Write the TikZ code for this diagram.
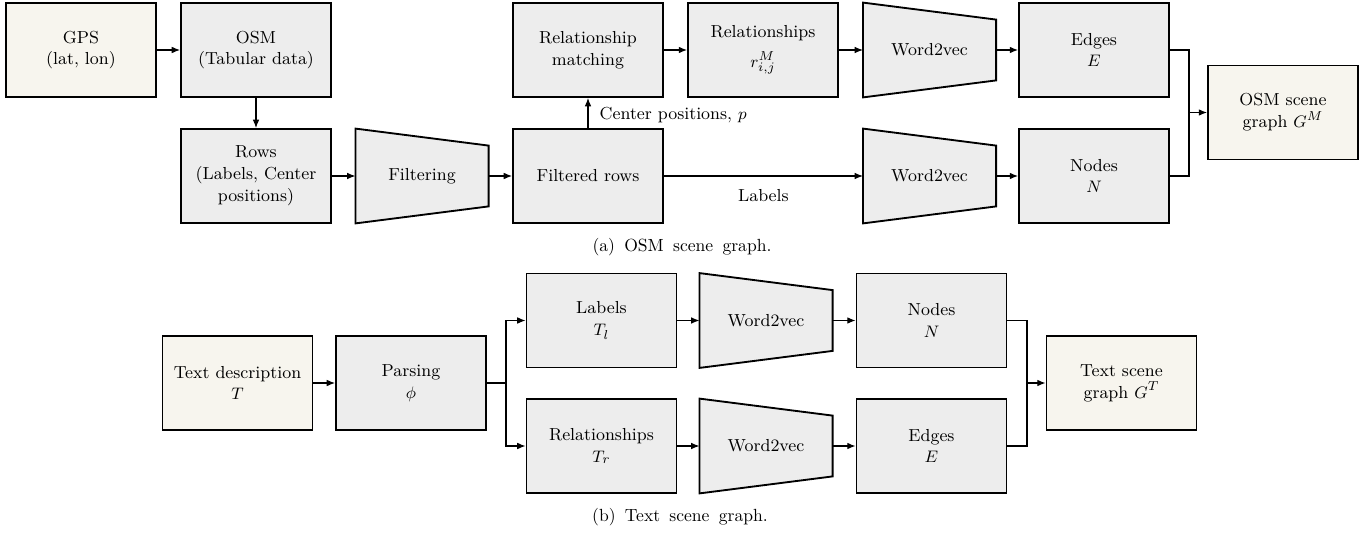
\documentclass[tikz,border=0pt]{standalone}
\usetikzlibrary{arrows.meta,calc}
\definecolor{cream}{HTML}{F7F5EE}
\definecolor{boxgray}{HTML}{EDEDED}
\tikzset{
  blk/.style={draw=black, line width=1pt, fill=boxgray, minimum width=81pt, minimum height=50.8pt, align=center, inner sep=2pt, font=\fontsize{9.4}{11.8}\selectfont},
  inbox/.style={blk, fill=cream},
  tzbox/.style={minimum width=71.5pt, minimum height=50.8pt, align=center, inner sep=0pt, font=\fontsize{9.4}{11.8}\selectfont},
  trap/.style={draw=black, line width=1pt, fill=boxgray},
  arr/.style={line width=0.6pt, -{Latex[length=4.5pt,width=3.6pt]}},
  ln/.style={line width=0.6pt},
  captext/.style={font=\fontsize{9.5}{12}\selectfont},
  lbl/.style={font=\fontsize{9.4}{11.8}\selectfont, inner sep=1pt}
}
\newcommand{\wsp}{\hspace{5pt}}
\newcommand{\trapdraw}[1]{%
  \draw[trap] (#1.north west) -- ($(#1.north east)+(0,17)$) -- ($(#1.south east)+(0,-17)$) -- (#1.south west) -- cycle;}
\begin{document}
\begin{tikzpicture}[x=0.54pt,y=-0.54pt]
\useasboundingbox (0,0) rectangle (1372,533);
% ---------- (a) ----------
\node[inbox] (gps) at (81,50) {GPS\\(lat, lon)};
\node[blk] (osm) at (256,50) {OSM\\(Tabular data)};
\node[blk] (rows) at (256,176) {Rows\\(Labels, Center\\positions)};
\node[tzbox] (filt) at (422,176) {};
\trapdraw{filt}
\node[tzbox] at (filt) {Filtering};
\node[blk] (frows) at (588,176) {Filtered rows};
\node[blk] (rmatch) at (588,50) {Relationship\\matching};
\node[blk] (rel) at (763,50) {Relationships\\[4pt]$r_{i,j}^{M}$};
\node[tzbox] (w1) at (929.5,50) {};
\trapdraw{w1}
\node[tzbox] at (w1) {Word2vec};
\node[tzbox] (w2) at (929.5,176) {};
\trapdraw{w2}
\node[tzbox] at (w2) {Word2vec};
\node[blk] (edges) at (1094,50) {Edges\\$E$};
\node[blk] (nodes) at (1094,176) {Nodes\\$N$};
\node[inbox] (osmsg) at (1283,112.5) {OSM scene\\graph $G^{M}$};
\coordinate (ja) at (1189,112.5);

\draw[arr] (gps) -- (osm);
\draw[arr] (osm) -- (rows);
\draw[arr] (rows) -- (filt);
\draw[arr] (filt) -- (frows);
\draw[arr] (frows) -- node[lbl, right=5pt, pos=0.42] {Center positions, $p$} (rmatch);
\draw[arr] (rmatch) -- (rel);
\draw[arr] (rel) -- (w1);
\draw[arr] (w1) -- (edges);
\draw[arr] (frows) -- node[lbl, below=6pt] {Labels} (w2);
\draw[arr] (w2) -- (nodes);
\draw[ln] (edges.east) -| (ja);
\draw[ln] (nodes.east) -| (ja);
\draw[arr] (ja) -- (osmsg);
\node[captext] (capa) at (682,247) {(a)\wsp OSM\wsp scene\wsp graph.};

% ---------- (b) ----------
\node[inbox] (tdesc) at (237.5,383) {Text description\\$T$};
\node[blk] (pars) at (411,383) {Parsing\\$\phi$};
\node[blk] (labs) at (601.5,320.5) {Labels\\$T_{l}$};
\node[blk] (rels) at (601.5,446) {Relationships\\$T_{r}$};
\node[tzbox] (w3) at (766,320.5) {};
\trapdraw{w3}
\node[tzbox] at (w3) {Word2vec};
\node[tzbox] (w4) at (766,446) {};
\trapdraw{w4}
\node[tzbox] at (w4) {Word2vec};
\node[blk] (nodes2) at (931.5,320.5) {Nodes\\$N$};
\node[blk] (edges2) at (931.5,446) {Edges\\$E$};
\node[inbox] (tsg) at (1121.5,383) {Text scene\\graph $G^{T}$};
\coordinate (jb1) at (506,383);
\coordinate (jb2) at (1027,383);

\draw[arr] (tdesc) -- (pars);
\draw[ln] (pars.east) -- (jb1);
\draw[arr] (jb1) |- (labs.west);
\draw[arr] (jb1) |- (rels.west);
\draw[arr] (labs) -- (w3);
\draw[arr] (w3) -- (nodes2);
\draw[arr] (rels) -- (w4);
\draw[arr] (w4) -- (edges2);
\draw[ln] (nodes2.east) -| (jb2);
\draw[ln] (edges2.east) -| (jb2);
\draw[arr] (jb2) -- (tsg);
\node[captext] (capb) at (680,517) {(b)\wsp Text\wsp scene\wsp graph.};
\end{tikzpicture}
\end{document}
